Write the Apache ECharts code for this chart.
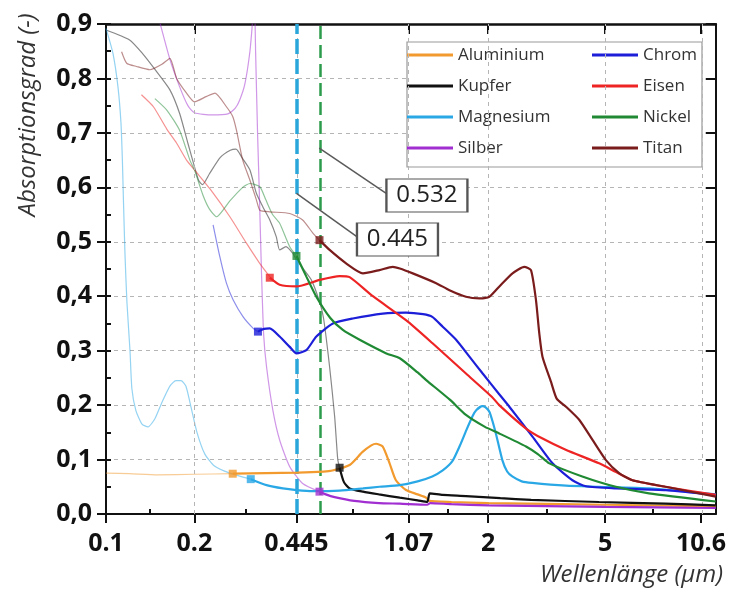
<!DOCTYPE html>
<html><head><meta charset="utf-8">
<script src="https://cdn.jsdelivr.net/npm/echarts@6/dist/echarts.min.js"></script>
<style>html,body{margin:0;padding:0;background:#fff}#c{width:729px;height:594px}</style>
</head><body><div id="c"></div>
<script>
// ---- tick values ----
const xMajorTicks = [0.1, 0.2, 0.445, 1.07, 2, 5, 10.6];
const xMinorTicks = [0.1414, 0.298, 0.69, 1.46, 3.16, 7.28];
const xRange = [0.1, 11.9];
const yRange = [0, 0.9];

// ---- series values: [wavelength µm, absorption] ----
const aluminiumThin = [[0.1,0.075],[0.12,0.074],[0.15,0.072],[0.2,0.073],[0.27,0.074]];
const aluminiumBold = [[0.27,0.074],[0.35,0.075],[0.45,0.076],[0.55,0.078],[0.59,0.08],[0.675,0.09],[0.747,0.114],[0.8,0.126],[0.83,0.129],[0.874,0.124],[0.922,0.094],[0.97,0.062],[1.05,0.044],[1.15,0.036],[1.23,0.03],[1.26,0.024],[1.5,0.022],[2,0.02],[5,0.017],[11.9,0.014]];

const kupferThin = [[0.1,0.889],[0.12,0.871],[0.133,0.846],[0.147,0.816],[0.165,0.779],[0.178,0.736],[0.19,0.681],[0.2,0.638],[0.207,0.612],[0.213,0.605],[0.225,0.625],[0.245,0.655],[0.265,0.668],[0.277,0.67],[0.29,0.655],[0.309,0.632],[0.325,0.589],[0.342,0.564],[0.361,0.54],[0.38,0.509],[0.39,0.485],[0.41,0.491],[0.432,0.479],[0.445,0.467],[0.47,0.45],[0.5,0.43],[0.533,0.39],[0.55,0.36],[0.577,0.27],[0.6,0.18],[0.615,0.1],[0.624,0.085]];
const kupferBold = [[0.624,0.085],[0.645,0.059],[0.675,0.047],[0.75,0.041],[0.85,0.036],[1.0,0.03],[1.15,0.025],[1.24,0.022],[1.265,0.038],[1.4,0.035],[1.68,0.033],[2.2,0.029],[2.8,0.026],[4.77,0.022],[8,0.019],[11.9,0.016]];

const magnesiumThin = [[0.1,0.892],[0.1056,0.846],[0.1098,0.785],[0.1124,0.72],[0.1137,0.65],[0.1146,0.58],[0.116,0.48],[0.1178,0.39],[0.1207,0.3],[0.1225,0.23],[0.1264,0.19],[0.1326,0.165],[0.139,0.16],[0.1467,0.175],[0.155,0.205],[0.165,0.235],[0.173,0.245],[0.18,0.245],[0.187,0.235],[0.194,0.2],[0.204,0.15],[0.217,0.11],[0.234,0.088],[0.264,0.075],[0.311,0.064]];
const magnesiumBold = [[0.311,0.064],[0.352,0.053],[0.4,0.047],[0.445,0.044],[0.505,0.042],[0.624,0.043],[0.75,0.047],[0.853,0.05],[1.0,0.053],[1.15,0.06],[1.29,0.069],[1.4,0.08],[1.51,0.097],[1.6,0.125],[1.685,0.154],[1.77,0.18],[1.823,0.191],[1.91,0.198],[1.96,0.196],[2.018,0.188],[2.07,0.17],[2.13,0.145],[2.234,0.099],[2.32,0.078],[2.415,0.069],[2.6,0.06],[2.824,0.057],[3.68,0.052],[4.77,0.05],[7.05,0.047],[11.9,0.036]];

const silberThin = [[0.148,0.93],[0.153,0.9],[0.165,0.835],[0.178,0.785],[0.19,0.75],[0.2,0.737],[0.23,0.733],[0.26,0.735],[0.275,0.745],[0.285,0.76],[0.297,0.79],[0.309,0.85],[0.316,0.91],[0.32,0.95],[0.323,0.85],[0.328,0.7],[0.333,0.58],[0.338,0.45],[0.344,0.33],[0.352,0.27],[0.37,0.19],[0.39,0.136],[0.422,0.087],[0.467,0.056],[0.533,0.041]];
const silberBold = [[0.533,0.041],[0.56,0.036],[0.6,0.031],[0.7,0.024],[0.85,0.02],[1.0,0.019],[1.24,0.017],[1.27,0.02],[1.5,0.018],[2,0.016],[5,0.013],[11.9,0.011]];

const chromThin = [[0.2315,0.531],[0.2439,0.473],[0.257,0.424],[0.271,0.393],[0.293,0.362],[0.317,0.341],[0.329,0.335]];
const chromBold = [[0.329,0.335],[0.345,0.34],[0.361,0.341],[0.39,0.326],[0.422,0.307],[0.445,0.295],[0.481,0.301],[0.52,0.326],[0.592,0.35],[0.692,0.359],[0.875,0.368],[1.05,0.37],[1.2,0.367],[1.29,0.362],[1.4,0.344],[1.555,0.32],[1.726,0.289],[1.915,0.258],[2.18,0.22],[2.36,0.197],[2.83,0.142],[3.31,0.093],[3.87,0.062],[4.3,0.051],[5.44,0.047],[8.04,0.044],[11.9,0.035]];

const eisenThin = [[0.132,0.77],[0.145,0.748],[0.161,0.707],[0.174,0.681],[0.188,0.65],[0.203,0.628],[0.226,0.597],[0.264,0.546],[0.301,0.497],[0.334,0.46],[0.361,0.436]];
const eisenBold = [[0.361,0.434],[0.39,0.421],[0.445,0.418],[0.534,0.43],[0.624,0.437],[0.675,0.435],[0.81,0.4],[1.05,0.356],[1.29,0.314],[1.68,0.258],[2.06,0.215],[2.18,0.2],[2.69,0.157],[3.05,0.139],[3.67,0.118],[4.77,0.093],[5.45,0.077],[6.2,0.062],[8.0,0.05],[11.9,0.035]];

const nickelThin = [[0.1467,0.763],[0.161,0.742],[0.178,0.705],[0.193,0.65],[0.2,0.632],[0.214,0.585],[0.225,0.56],[0.238,0.546],[0.264,0.575],[0.292,0.6],[0.309,0.607],[0.334,0.601],[0.35,0.577],[0.369,0.55],[0.39,0.534],[0.422,0.491],[0.445,0.474]];
const nickelBold = [[0.445,0.474],[0.481,0.436],[0.52,0.399],[0.58,0.36],[0.64,0.338],[0.73,0.32],[0.9,0.295],[1.0,0.286],[1.15,0.26],[1.23,0.246],[1.48,0.21],[1.68,0.182],[1.95,0.16],[2.18,0.148],[2.69,0.124],[2.95,0.11],[3.23,0.093],[4.18,0.069],[5.44,0.05],[7.05,0.038],[11.9,0.023]];

const titanThin = [[0.113,0.849],[0.1176,0.828],[0.127,0.822],[0.141,0.816],[0.155,0.826],[0.165,0.837],[0.174,0.8],[0.188,0.773],[0.2,0.757],[0.22,0.767],[0.235,0.773],[0.257,0.748],[0.27,0.73],[0.278,0.705],[0.292,0.65],[0.309,0.613],[0.325,0.577],[0.334,0.558],[0.361,0.555],[0.422,0.552],[0.467,0.54],[0.506,0.516],[0.533,0.503]];
const titanBold = [[0.533,0.503],[0.577,0.485],[0.658,0.46],[0.749,0.442],[0.853,0.448],[0.946,0.454],[1.0,0.451],[1.107,0.442],[1.33,0.424],[1.476,0.411],[1.68,0.399],[1.866,0.396],[2.018,0.399],[2.183,0.418],[2.42,0.442],[2.653,0.454],[2.796,0.448],[2.908,0.393],[2.984,0.332],[3.06,0.289],[3.27,0.243],[3.42,0.212],[3.68,0.197],[4.08,0.173],[4.53,0.136],[5.03,0.099],[5.58,0.075],[6.19,0.062],[8.04,0.05],[11.9,0.032]];

// ---- annotations ----
const laserLines = [0.445, 0.532];
const annotLabels = ['0.532', '0.445'];
const annotStart = [[0.532, 0.672], [0.445, 0.589]];
const annotEnd = [[0.899, 0.589], [0.72, 0.508]];
const annotBoxCenter = [[1.237, 0.585], [0.982, 0.504]];

const legendLeft = ['Aluminium', 'Kupfer', 'Magnesium', 'Silber'];
const legendRight = ['Chrom', 'Eisen', 'Nickel', 'Titan'];

// ---- styles ----
const colors = {Aluminium:'#f29a2e', Kupfer:'#111111', Magnesium:'#2aa8e6', Silber:'#a12ed0',
  Chrom:'#1c1ed8', Eisen:'#ee2424', Nickel:'#1f8a33', Titan:'#7b1c1c'};
const FONT = "'Open Sans', 'Liberation Sans', sans-serif";

const materials = [
  ['Aluminium', aluminiumThin, aluminiumBold],
  ['Kupfer', kupferThin, kupferBold],
  ['Magnesium', magnesiumThin, magnesiumBold],
  ['Silber', silberThin, silberBold],
  ['Chrom', chromThin, chromBold],
  ['Eisen', eisenThin, eisenBold],
  ['Nickel', nickelThin, nickelBold],
  ['Titan', titanThin, titanBold]
];

const L = v => Math.log10(v);
const toXY = arr => arr.map(p => [L(p[0]), p[1]]);

const series = [];
series.push({
  type:'line', name:'_grid', data:[], silent:true, z:1,
  markLine:{
    silent:true, symbol:'none', animation:false, label:{show:false},
    lineStyle:{color:'#b5b5b5', type:[4,4], width:1},
    data: xMajorTicks.slice(1).map(v => ({xAxis: L(v)}))
  }
});
series.push({
  type:'line', name:'_laser', data:[], silent:true, z:3,
  markLine:{
    silent:true, symbol:'none', animation:false, label:{show:false},
    data:[
      {xAxis:L(laserLines[0]), lineStyle:{color:'#2ba6da', width:3.5, type:[15,5]}},
      {xAxis:L(laserLines[1]), lineStyle:{color:'#2c9c4c', width:2.5, type:[13,6]}}
    ]
  }
});
materials.forEach(([name, thin]) => {
  series.push({
    type:'line', name:name + ' UV', data:toXY(thin), showSymbol:false, smooth:0.2, silent:true, z:4,
    lineStyle:{color:colors[name], width:1.2, opacity:0.5}, itemStyle:{color:colors[name]}
  });
});
materials.forEach(([name, , bold]) => {
  series.push({
    type:'line', name:name, data:toXY(bold), showSymbol:false, smooth:0.2, z:5,
    lineStyle:{color:colors[name], width:2.2}, itemStyle:{color:colors[name]}
  });
});
series.push({
  type:'scatter', name:'_markers', symbol:'rect', symbolSize:8, z:6, silent:true,
  data: materials.map(([name, , bold]) => ({value:[L(bold[0][0]), bold[0][1]], itemStyle:{color:colors[name]}}))
});
series.push({
  type:'line', name:'_annot', data:[], silent:true, z:7,
  markLine:{
    silent:true, symbol:'none', animation:false, label:{show:false},
    lineStyle:{color:'#5a5a5a', width:1.5, type:'solid'},
    data: annotStart.map((s, i) => [{coord:[L(s[0]), s[1]]}, {coord:[L(annotEnd[i][0]), annotEnd[i][1]]}])
  },
  markPoint:{
    silent:true, animation:false, symbol:'rect', symbolSize:[81,33],
    itemStyle:{color:'#fff', borderColor:'#555', borderWidth:1.5},
    label:{show:true, position:'inside', formatter:'{b}', fontSize:24, color:'#222', fontFamily:FONT},
    data: annotBoxCenter.map((c, i) => ({name:annotLabels[i], coord:[L(c[0]), c[1]]}))
  }
});

const xFmt = v => String(Number(Math.pow(10, v).toPrecision(3)));
const xBase = {type:'value', min:L(xRange[0]), max:L(xRange[1]), splitLine:{show:false}};

const option = {
  animation:false,
  backgroundColor:'#fff',
  grid:{left:106, right:12, top:24, bottom:80},
  xAxis:[
    Object.assign({}, xBase, {position:'bottom',
      axisLine:{onZero:false, lineStyle:{color:'#111', width:2}},
      axisTick:{customValues:xMajorTicks.map(L), length:9, lineStyle:{color:'#111', width:2}},
      axisLabel:{customValues:xMajorTicks.map(L), formatter:xFmt, margin:17, fontSize:25, fontWeight:'bold', color:'#111', fontFamily:FONT}}),
    Object.assign({}, xBase, {position:'bottom',
      axisLine:{show:false, onZero:false},
      axisTick:{customValues:xMinorTicks.map(L), inside:true, length:5, lineStyle:{color:'#111', width:2}},
      axisLabel:{show:false}}),
    Object.assign({}, xBase, {position:'top',
      axisLine:{onZero:false, lineStyle:{color:'#111', width:2.5}},
      axisTick:{customValues:xMajorTicks.map(L), inside:true, length:10, lineStyle:{color:'#111', width:2}},
      axisLabel:{show:false}})
  ],
  yAxis:[
    {type:'value', min:yRange[0], max:yRange[1], interval:0.1, position:'left',
      axisLine:{show:true, onZero:false, lineStyle:{color:'#111', width:2}},
      axisTick:{show:true, length:9, lineStyle:{color:'#111', width:2}},
      splitLine:{show:true, lineStyle:{color:'#b5b5b5', type:[4,4], width:1}},
      axisLabel:{formatter:v => v.toFixed(1).replace('.', ','), margin:14, fontSize:25, fontWeight:'bold', color:'#111', fontFamily:FONT}},
    {type:'value', min:yRange[0], max:yRange[1], interval:0.05, position:'left',
      axisLine:{show:false, onZero:false}, splitLine:{show:false}, axisLabel:{show:false},
      axisTick:{show:true, inside:true, length:5, lineStyle:{color:'#111', width:2}}},
    {type:'value', min:yRange[0], max:yRange[1], interval:0.1, position:'right',
      axisLine:{show:true, onZero:false, lineStyle:{color:'#111', width:2}}, splitLine:{show:false}, axisLabel:{show:false},
      axisTick:{show:true, inside:true, length:10, lineStyle:{color:'#111', width:2}}}
  ],
  legend:[
    {data:legendLeft, left:407, top:45, orient:'vertical', padding:0, icon:'rect', itemWidth:46, itemHeight:3, itemGap:11, selectedMode:false,
      textStyle:{fontSize:17, color:'#333', fontFamily:FONT, lineHeight:20}},
    {data:legendRight, left:592, top:45, orient:'vertical', padding:0, icon:'rect', itemWidth:46, itemHeight:3, itemGap:11, selectedMode:false,
      textStyle:{fontSize:17, color:'#333', fontFamily:FONT, lineHeight:20}}
  ],
  graphic:[
    {type:'rect', z:3, silent:true, shape:{x:407, y:42, width:295, height:125}, style:{fill:'#fff', stroke:'#999', lineWidth:1.2}},
    {type:'text', z:10, silent:true, x:28, y:115, rotation:Math.PI/2,
      style:{text:'Absorptionsgrad (-)', font:"italic 24px 'Open Sans', 'Liberation Sans', sans-serif", fill:'#333', align:'center', verticalAlign:'middle'}},
    {type:'text', z:10, silent:true, x:723, y:575,
      style:{text:'Wellenlänge (µm)', font:"italic 24px 'Open Sans', 'Liberation Sans', sans-serif", fill:'#333', align:'right', verticalAlign:'middle'}}
  ],
  series: series
};

const chart = echarts.init(document.getElementById('c'), null, {renderer:'canvas'});
chart.setOption(option);
</script></body></html>
